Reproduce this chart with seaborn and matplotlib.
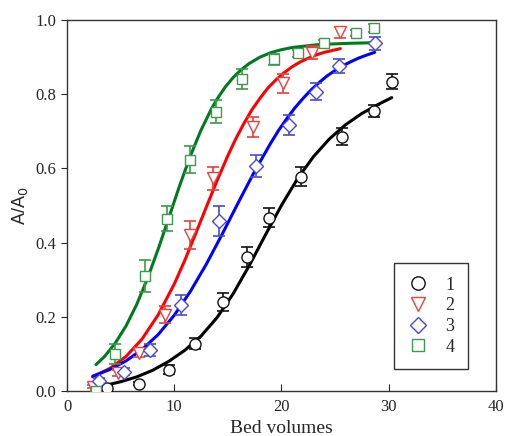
import pandas as pd
import numpy as np
import seaborn as sns
import matplotlib.pyplot as plt

# measured points (bed volumes, A/A0, error)
x1 = [3.7, 6.7, 9.56, 11.96, 14.6, 16.8, 18.85, 21.8, 25.7, 28.6, 30.3]
y1 = [0.009, 0.020, 0.057, 0.128, 0.239, 0.361, 0.467, 0.578, 0.686, 0.756, 0.834]
e1 = [0.005, 0.005, 0.012, 0.016, 0.024, 0.026, 0.025, 0.025, 0.024, 0.016, 0.021]

x2 = [2.4, 4.8, 6.7, 9.1, 11.5, 13.6, 17.35, 20.15, 22.9, 25.45]
y2 = [0.012, 0.048, 0.103, 0.205, 0.420, 0.573, 0.712, 0.829, 0.912, 0.967]
e2 = [0.005, 0.008, 0.010, 0.023, 0.038, 0.031, 0.028, 0.026, 0.018, 0.015]

x3 = [3.0, 5.36, 7.7, 10.65, 14.2, 17.6, 20.7, 23.2, 25.4, 28.7]
y3 = [0.027, 0.052, 0.110, 0.232, 0.459, 0.607, 0.717, 0.807, 0.876, 0.937]
e3 = [0.008, 0.010, 0.016, 0.026, 0.040, 0.030, 0.026, 0.022, 0.018, 0.018]

x4 = [2.74, 4.5, 7.3, 9.3, 11.5, 13.86, 16.35, 19.3, 21.55, 24.0, 27.0, 28.6]
y4 = [0.000, 0.099, 0.310, 0.465, 0.624, 0.753, 0.841, 0.894, 0.910, 0.937, 0.966, 0.979]
e4 = [0.004, 0.027, 0.043, 0.035, 0.036, 0.031, 0.026, 0.015, 0.010, 0.008, 0.008, 0.010]

# fitted curves
fx1 = [3.7, 5, 6.5, 8, 9.5, 11, 12.5, 14, 15.5, 17, 18.5, 20, 21.5, 23, 24.5, 26, 27.5, 29, 30.3]
fy1 = [0.016, 0.025, 0.038, 0.056, 0.080, 0.110, 0.148, 0.198, 0.262, 0.338, 0.420, 0.500,
       0.572, 0.632, 0.680, 0.718, 0.748, 0.772, 0.791]

fx2 = [2.4, 4, 5.5, 7, 8.5, 10, 11, 12, 13, 14, 15, 15.75, 16.5, 17.25, 18, 18.75, 19.5,
       20.25, 21, 21.75, 22.5, 23.25, 24, 25.5]
fy2 = [0.038, 0.061, 0.093, 0.140, 0.205, 0.288, 0.353, 0.424, 0.496, 0.567, 0.634, 0.680,
       0.721, 0.758, 0.789, 0.817, 0.839, 0.858, 0.874, 0.887, 0.897, 0.906, 0.913, 0.923]

fx3 = [2.4, 4, 5.5, 7, 8.5, 10, 11.5, 13, 14.5, 16, 17.5, 19, 19.75, 20.5, 21.25, 22,
       22.75, 23.5, 24.25, 25, 25.75, 26.5, 27.25, 28, 28.7]
fy3 = [0.040, 0.058, 0.081, 0.112, 0.152, 0.204, 0.268, 0.342, 0.424, 0.509, 0.592, 0.668,
       0.703, 0.734, 0.763, 0.788, 0.811, 0.831, 0.849, 0.864, 0.877, 0.888, 0.898, 0.906, 0.913]

fx4 = [2.7, 3.5, 4.5, 5.5, 6.5, 7.5, 8.5, 9.5, 10.5, 11.5, 12.5, 13.5, 14, 14.75, 15.5,
       16.25, 17, 18, 19, 20, 21, 23.5, 26, 28.6]
fy4 = [0.071, 0.093, 0.129, 0.175, 0.233, 0.303, 0.382, 0.467, 0.553, 0.633, 0.703, 0.762,
       0.787, 0.819, 0.845, 0.866, 0.883, 0.900, 0.912, 0.920, 0.926, 0.934, 0.937, 0.939]

labels = ['1', '2', '3', '4']
line_colors = ['black', '#ff0000', '#0000ff', '#007a1f']
mark_colors = ['#111111', '#e8403a', '#4a4ac8', '#3d9a4a']
markers = ['o', 'v', 'D', 's']
sizes = [8, 8, 7, 7]

pts = pd.concat([
    pd.DataFrame({'x': x, 'y': y, 'err': e, 'run': lab})
    for x, y, e, lab in zip([x1, x2, x3, x4], [y1, y2, y3, y4], [e1, e2, e3, e4], labels)
])
fits = pd.concat([
    pd.DataFrame({'x': x, 'y': y, 'run': lab})
    for x, y, lab in zip([fx1, fx2, fx3, fx4], [fy1, fy2, fy3, fy4], labels)
])

sns.set_style('ticks')
plt.rcParams['font.family'] = ['Liberation Serif', 'DejaVu Serif']

fig = plt.figure(figsize=(5.05, 4.36), dpi=100)
ax = fig.add_axes([0.1327, 0.1032, 0.8489, 0.8508])

sns.lineplot(data=fits, x='x', y='y', hue='run', palette=line_colors, lw=2.2,
             legend=False, ax=ax, sort=False, solid_joinstyle='round')

handles = []
for i, lab in enumerate(labels):
    d = pts[pts.run == lab]
    ax.errorbar(d.x, d.y, yerr=d.err, fmt='none', ecolor=mark_colors[i],
                elinewidth=1.2, capsize=4.5, capthick=1.2, zorder=3)
    h, = ax.plot(d.x, d.y, ls='none', marker=markers[i], ms=sizes[i], mfc='white',
                 mec=mark_colors[i], mew=1.0, zorder=4)
    handles.append(h)

ax.set_xlim(0, 40)
ax.set_ylim(0, 1.0)
ax.set_xticks([0, 10, 20, 30, 40])
ax.set_yticks([0, 0.2, 0.4, 0.6, 0.8, 1.0])
ax.set_yticklabels(['0.0', '0.2', '0.4', '0.6', '0.8', '1.0'])
ax.tick_params(axis='x', direction='in', length=5, labelsize=12, pad=6)
ax.tick_params(axis='y', direction='out', length=4, labelsize=12)
ax.tick_params(top=False, right=False)
for s in ax.spines.values():
    s.set_visible(True)
    s.set_linewidth(1.0)
    s.set_color('#333333')

ax.set_xlabel('Bed volumes', fontsize=14, labelpad=3)
ax.set_ylabel('A/A$_0$', fontsize=13, family='Liberation Sans', labelpad=4)

leg = ax.legend(handles, labels, loc='lower right', bbox_to_anchor=(0.935, 0.059),
                frameon=True, fancybox=False, edgecolor='black', fontsize=13,
                markerscale=1.2, handlelength=1.2, handletextpad=0.9,
                borderpad=0.75, labelspacing=0.2, borderaxespad=0)
leg.get_frame().set_linewidth(1.0)

fig.savefig('out.png', dpi=100)
